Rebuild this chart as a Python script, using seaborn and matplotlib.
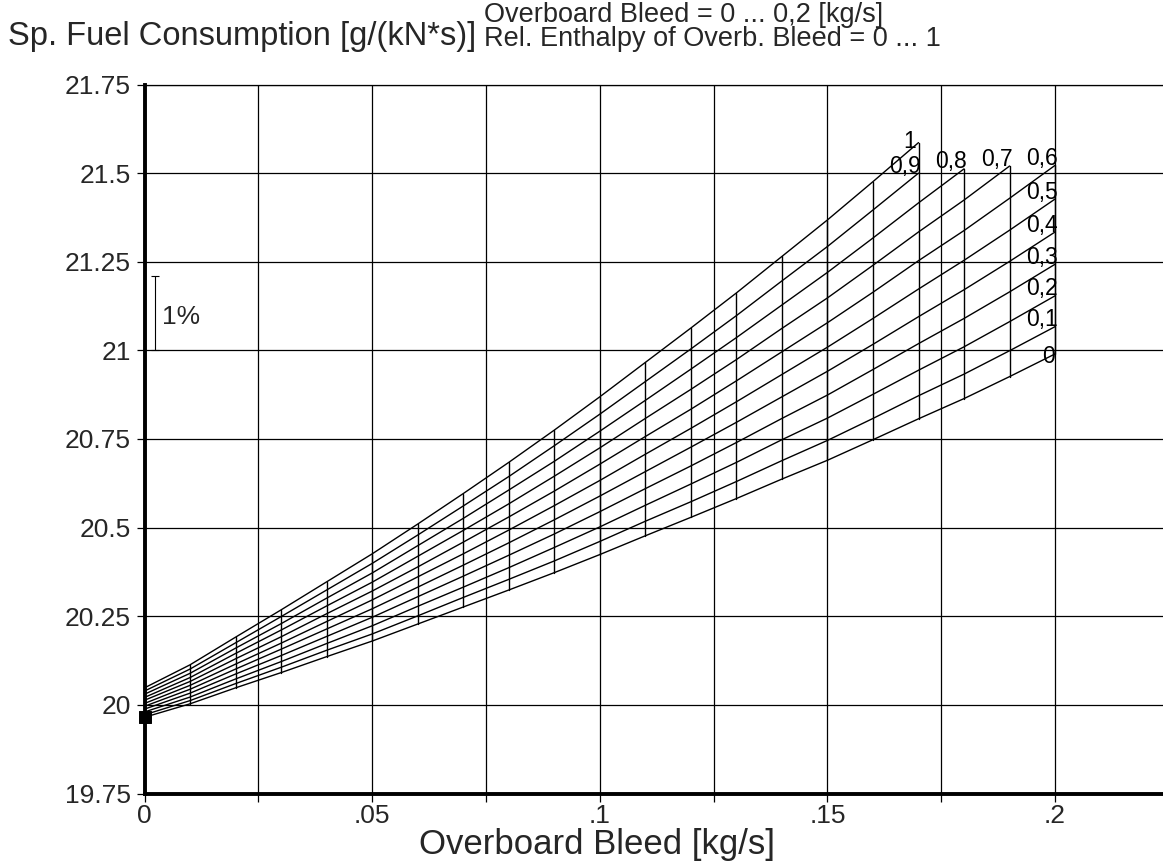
import matplotlib
matplotlib.use("Agg")
import matplotlib.pyplot as plt
import pandas as pd
import seaborn as sns

# ---------------- data ----------------
bleed = [0.00, 0.01, 0.02, 0.03, 0.04, 0.05, 0.06, 0.07, 0.08, 0.09, 0.10,
         0.11, 0.12, 0.13, 0.14, 0.15, 0.16, 0.17, 0.18, 0.19, 0.20]

enthalpy = [0.0, 0.1, 0.2, 0.3, 0.4, 0.5, 0.6, 0.7, 0.8, 0.9, 1.0]
enthalpy_labels = ["0", "0,1", "0,2", "0,3", "0,4", "0,5", "0,6", "0,7", "0,8", "0,9", "1"]

sfc_h00 = [19.965, 20.003, 20.048, 20.091, 20.136, 20.180, 20.228, 20.276, 20.324, 20.373, 20.424,
           20.477, 20.529, 20.582, 20.637, 20.690, 20.748, 20.807, 20.864, 20.926, 20.990]
sfc_h01 = [19.972, 20.012, 20.060, 20.106, 20.154, 20.200, 20.251, 20.303, 20.354, 20.406, 20.461,
           20.518, 20.573, 20.630, 20.689, 20.746, 20.808, 20.872, 20.933, 20.999, 21.067]
sfc_h02 = [19.980, 20.022, 20.073, 20.122, 20.173, 20.223, 20.278, 20.332, 20.387, 20.444, 20.502,
           20.563, 20.623, 20.684, 20.748, 20.809, 20.876, 20.944, 21.010, 21.081, 21.154]
sfc_h03 = [19.988, 20.033, 20.087, 20.139, 20.193, 20.247, 20.305, 20.363, 20.422, 20.482, 20.545,
           20.610, 20.674, 20.740, 20.808, 20.874, 20.946, 21.019, 21.090, 21.165, 21.243]
sfc_h04 = [19.996, 20.044, 20.101, 20.157, 20.214, 20.271, 20.332, 20.394, 20.457, 20.522, 20.589,
           20.658, 20.727, 20.797, 20.869, 20.941, 21.017, 21.095, 21.171, 21.251, 21.334]
sfc_h05 = [20.004, 20.055, 20.115, 20.174, 20.235, 20.296, 20.361, 20.426, 20.493, 20.562, 20.633,
           20.707, 20.780, 20.855, 20.932, 21.009, 21.090, 21.173, 21.254, 21.339, 21.427]
sfc_h06 = [20.013, 20.066, 20.130, 20.192, 20.257, 20.321, 20.389, 20.459, 20.530, 20.603, 20.679,
           20.757, 20.834, 20.914, 20.996, 21.078, 21.164, 21.253, 21.338, 21.429, 21.522]
sfc_h07 = [20.021, 20.077, 20.145, 20.211, 20.279, 20.346, 20.419, 20.492, 20.567, 20.645, 20.725,
           20.808, 20.890, 20.974, 21.062, 21.148, 21.240, 21.334, 21.424, 21.520]
sfc_h08 = [20.030, 20.089, 20.160, 20.229, 20.301, 20.372, 20.449, 20.526, 20.606, 20.687, 20.772,
           20.859, 20.947, 21.036, 21.128, 21.220, 21.317, 21.416, 21.512]
sfc_h09 = [20.039, 20.101, 20.175, 20.249, 20.324, 20.399, 20.479, 20.561, 20.644, 20.731, 20.820,
           20.912, 21.004, 21.098, 21.196, 21.293, 21.396, 21.500]
sfc_h10 = [20.048, 20.113, 20.191, 20.268, 20.347, 20.426, 20.510, 20.596, 20.684, 20.775, 20.869,
           20.966, 21.063, 21.162, 21.265, 21.368, 21.476, 21.586]
sfc_lines = [sfc_h00, sfc_h01, sfc_h02, sfc_h03, sfc_h04, sfc_h05,
             sfc_h06, sfc_h07, sfc_h08, sfc_h09, sfc_h10]

ref_bleed = [0.0]
ref_sfc = [19.966]

pct_bar_bleed = 0.0022
pct_bar_sfc = [21.0, 21.21]
pct_label = "1%"

x_major = [0.0, 0.05, 0.10, 0.15, 0.20]
x_major_labels = ["0", ".05", ".1", ".15", ".2"]
x_minor = [0.025, 0.075, 0.125, 0.175]
y_ticks = [19.75, 20.0, 20.25, 20.5, 20.75, 21.0, 21.25, 21.5, 21.75]
y_tick_labels = ["19.75", "20", "20.25", "20.5", "20.75", "21", "21.25", "21.5", "21.75"]

title_lines = ["Overboard Bleed = 0 ... 0,2 [kg/s]",
               "Rel. Enthalpy of Overb. Bleed = 0 ... 1"]
x_label = "Overboard Bleed [kg/s]"
y_label = "Sp. Fuel Consumption [g/(kN*s)]"

# ---------------- table ----------------
rows = []
for h, vals in zip(enthalpy, sfc_lines):
    for b, v in zip(bleed, vals):
        rows.append({"bleed": b, "enthalpy": h, "sfc": v})
df = pd.DataFrame(rows)

# ---------------- style ----------------
sns.set_style("white")
plt.rcParams["font.family"] = ["Liberation Sans", "DejaVu Sans"]

W, H = 1163, 868
fig = plt.figure(figsize=(W / 100, H / 100), dpi=100)
left_px, bottom_px, top_px = 144.5, 868 - 793.5, 84.5
ax = fig.add_axes([left_px / W, bottom_px / H, 1 - left_px / W, (H - top_px - bottom_px) / H])

ax.set_xlim(0, 0.2237)
ax.set_ylim(19.75, 21.75)

# grid
ax.set_xticks(x_major)
ax.set_xticklabels(x_major_labels)
ax.set_xticks(x_minor, minor=True)
ax.set_yticks(y_ticks)
ax.set_yticklabels(y_tick_labels)
ax.grid(True, which="both", axis="x", color="black", lw=0.9, zorder=0)
ax.grid(True, which="major", axis="y", color="black", lw=0.9, zorder=0)
ax.set_axisbelow(True)

# carpet: constant-enthalpy lines
sns.lineplot(data=df, x="bleed", y="sfc", units="enthalpy", estimator=None,
             color="black", lw=1.0, ax=ax, legend=False, sort=True)
# carpet: constant-bleed cross lines
sns.lineplot(data=df[df["bleed"] > 0], x="bleed", y="sfc", units="bleed", estimator=None,
             orient="y", color="black", lw=1.0, ax=ax, legend=False)

# line labels
for h, lab, vals in zip(enthalpy, enthalpy_labels, sfc_lines):
    b_end = bleed[len(vals) - 1]
    v_end = vals[-1]
    if lab == "0":
        off = (0, -2)
    elif lab == "1":
        off = (-2, 1)
    else:
        off = (2, 5)
    ax.annotate(lab, (b_end, v_end), xytext=off, textcoords="offset points",
                ha="right", va="center", fontsize=16.5, color="black")

# reference point
sns.scatterplot(x=ref_bleed, y=ref_sfc, marker="s", s=75, color="black",
                edgecolor="black", ax=ax, zorder=6, clip_on=False, legend=False)

# 1% bar
mid = (pct_bar_sfc[0] + pct_bar_sfc[1]) / 2
half = (pct_bar_sfc[1] - pct_bar_sfc[0]) / 2
ax.errorbar([pct_bar_bleed], [mid], yerr=[half], fmt="none", ecolor="black",
            elinewidth=0.8, capsize=3, capthick=0.8)
ax.text(pct_bar_bleed + 0.0017, mid - 0.012, pct_label, ha="left", va="center", fontsize=19)

# spines
for s in ["left", "bottom"]:
    ax.spines[s].set_linewidth(2.8)
    ax.spines[s].set_color("black")
ax.spines["top"].set_linewidth(0.9)
ax.spines["top"].set_color("black")
ax.spines["right"].set_visible(False)

ax.tick_params(axis="both", which="both", direction="out", length=6, width=0.9,
               color="black", labelsize=19, left=True, bottom=True)
ax.tick_params(axis="y", pad=4)
ax.tick_params(axis="x", pad=1.5)

# labels
ax.set_xlabel(x_label, fontsize=25, ha="center", va="baseline")
ax.xaxis.set_label_coords((597 - left_px) / (W - left_px), (868 - 854 - bottom_px) / 709)
ax.set_ylabel(y_label, fontsize=23.5, rotation=0, ha="left", va="baseline")
ax.yaxis.set_label_coords((8 - left_px) / (W - left_px), 1.0557)

fig.text(484 / W, 1 - 22 / H, title_lines[0], ha="left", va="baseline", fontsize=19.5)
fig.text(484 / W, 1 - 46 / H, title_lines[1], ha="left", va="baseline", fontsize=19.5)

fig.savefig("out.png", dpi=100)
